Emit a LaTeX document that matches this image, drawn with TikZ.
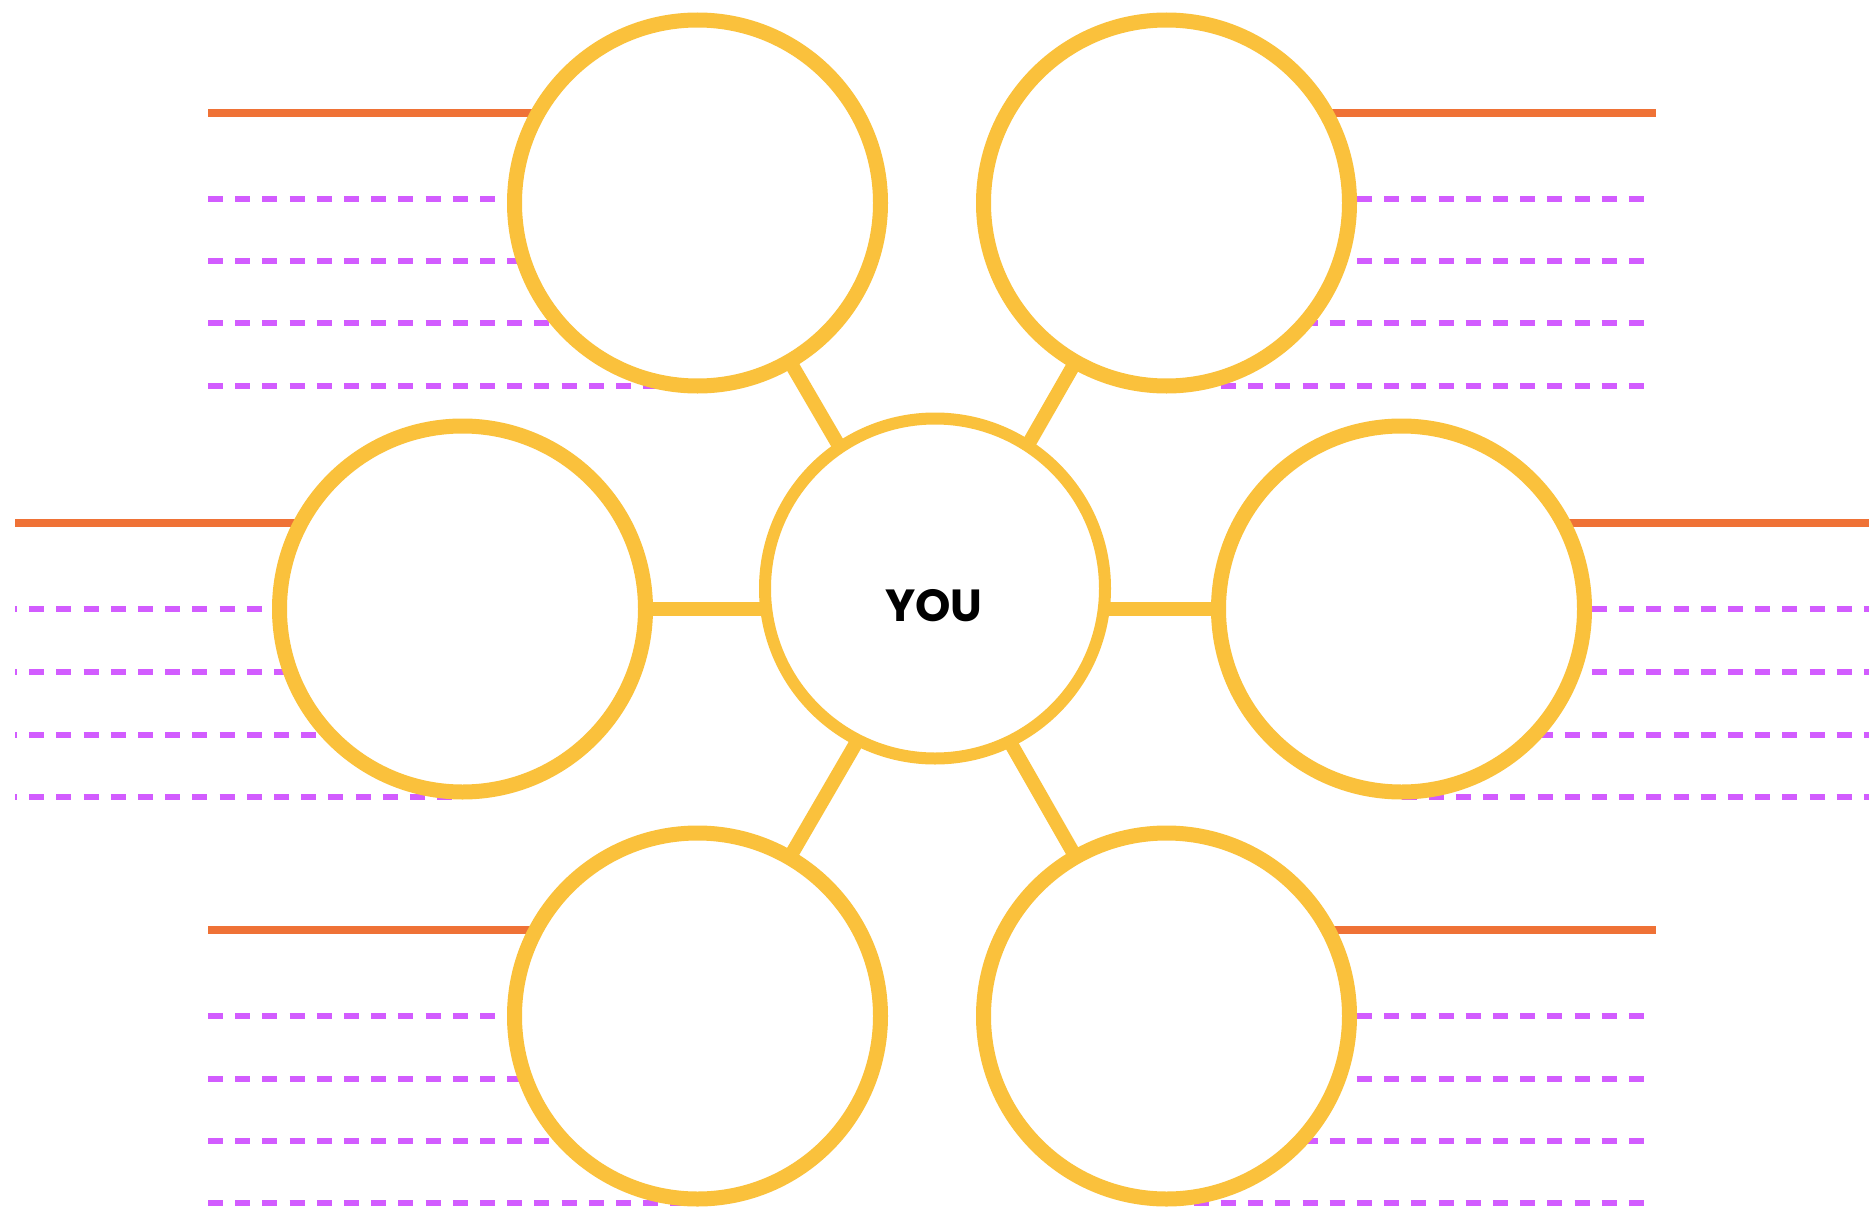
\documentclass[tikz,border=0pt]{standalone}
\usepackage{fontspec}
\newfontfamily\youfont{Poppins}
\usetikzlibrary{backgrounds}
\definecolor{ringY}{HTML}{FAC13C}
\definecolor{ruleO}{HTML}{EF7236}
\definecolor{ruleP}{HTML}{D25CFF}
\begin{document}
\begin{tikzpicture}[x=1pt,y=-1pt,
  ring/.style={circle, draw=ringY, line width=15pt, fill=white, minimum size=366pt, inner sep=0pt},
  hubring/.style={circle, draw=ringY, line width=12pt, fill=white, minimum size=340pt, inner sep=0pt},
  spoke/.style={draw=ringY, line width=14pt},
  headrule/.style={draw=ruleO, line width=8.5pt},
  writerule/.style={draw=ruleP, line width=5.2pt, dash pattern=on 15pt off 12.2pt}]
\useasboundingbox (0,0) rectangle (1869,1207);

% circles
\node[ring] (TL) at (697.5,203) {};
\node[ring] (TR) at (1166.5,203) {};
\node[ring] (L)  at (462.5,609) {};
\node[ring] (R)  at (1401.5,609) {};
\node[ring] (BL) at (697.5,1016) {};
\node[ring] (BR) at (1166.5,1016) {};
\coordinate (hub) at (934,609);
\node[hubring] (C) at (935,588.5) {};
\node[font=\youfont\bfseries\fontsize{45}{45}\selectfont, inner sep=0pt] (you) at (934,606) {YOU};

\begin{pgfonlayer}{background}
  \fill[white] (0,0) rectangle (1869,1207);
  % top group
  \draw[headrule] (208,113) -- (697.5,113);
  \draw[headrule] (1166.5,113) -- (1656,113);
  \foreach \y in {199,261,323,386}{
    \draw[writerule] (208,\y) -- (697.5,\y);
    \draw[writerule] (1166.5,\y) -- (1656,\y);
  }
  % middle group
  \draw[headrule] (15,523) -- (462.5,523);
  \draw[headrule] (1401.5,523) -- (1869,523);
  \foreach \y in {609,672,735,797}{
    \draw[writerule, dash phase=13pt] (15,\y) -- (462.5,\y);
    \draw[writerule] (1401.5,\y) -- (1869,\y);
  }
  % bottom group
  \draw[headrule] (208,930) -- (697.5,930);
  \draw[headrule] (1166.5,930) -- (1656,930);
  \foreach \y in {1016,1079,1141,1203}{
    \draw[writerule] (208,\y) -- (697.5,\y);
    \draw[writerule] (1166.5,\y) -- (1656,\y);
  }
  % spokes
  \foreach \n in {TL,TR,L,R,BL,BR}{
    \draw[spoke] (\n.center) -- (hub);
  }
\end{pgfonlayer}
\end{tikzpicture}
\end{document}
